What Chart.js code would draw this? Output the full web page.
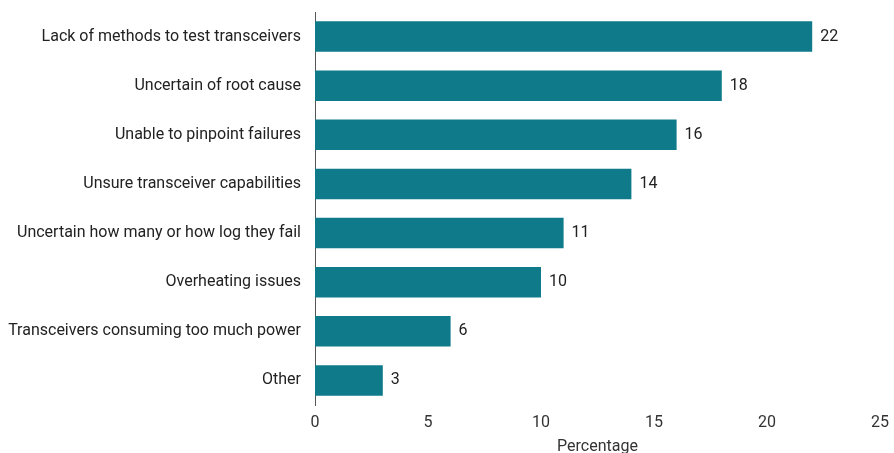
<!DOCTYPE html>
<html><head><meta charset="utf-8">
<script src="https://cdn.jsdelivr.net/npm/chart.js@4"></script>
<style>html,body{margin:0;padding:0;background:#fff}#wrap{width:894px;height:453px}</style>
</head><body><div id="wrap"><canvas id="c" width="894" height="453"></canvas></div>
<script>
const categories = ["Lack of methods to test transceivers","Uncertain of root cause","Unable to pinpoint failures","Unsure transceiver capabilities","Uncertain how many or how log they fail","Overheating issues","Transceivers consuming too much power","Other"];
const values = [22,18,16,14,11,10,6,3];
const xTicks = [0,5,10,15,20,25];

const labelPlugin = {
  id:'barLabels',
  afterDatasetsDraw(chart){
    const ctx = chart.ctx;
    const meta = chart.getDatasetMeta(0);
    ctx.save();
    ctx.font = '16px Roboto';
    ctx.fillStyle = '#222';
    ctx.textBaseline = 'middle';
    ctx.textAlign = 'left';
    meta.data.forEach((bar,i)=>{
      ctx.fillText(String(values[i]), bar.x + 8, bar.y);
    });
    ctx.restore();
  }
};

new Chart(document.getElementById('c'),{
  type:'bar',
  data:{labels:categories,datasets:[{data:values,backgroundColor:'#0e7a8a',categoryPercentage:0.62,barPercentage:1}]},
  options:{
    indexAxis:'y',responsive:false,animation:false,
    layout:{padding:{left:0,right:0,top:0,bottom:0}},
    plugins:{legend:{display:false},tooltip:{enabled:false}},
    scales:{
      x:{min:0,max:25,afterBuildTicks(s){s.ticks=xTicks.map(v=>({value:v}));},
        afterFit(s){s.height=48;s.paddingLeft=0;s.paddingRight=14;},
        grid:{display:false,drawTicks:false},border:{display:false},
        ticks:{color:'#333',font:{family:'Roboto',size:16},padding:8},
        title:{display:true,text:'Percentage',color:'#333',font:{family:'Roboto',size:16,lineHeight:0.8},padding:{top:0,bottom:0}}},
      y:{afterFit(s){s.width=315;s.paddingTop=12;s.paddingBottom=0;},
        grid:{display:false,drawTicks:false},border:{display:true,color:'#555',width:1},
        ticks:{color:'#222',font:{family:'Roboto',size:16},padding:14}}
    }
  },
  plugins:[labelPlugin]
});
</script></body></html>
